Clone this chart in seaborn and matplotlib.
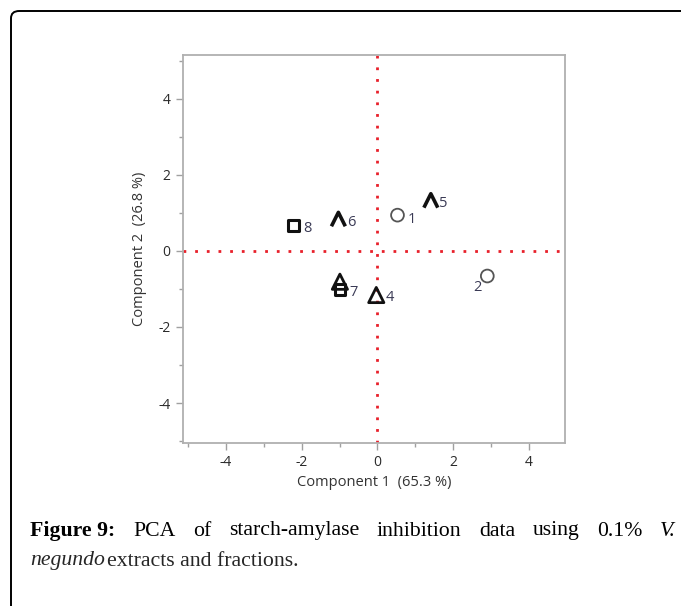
import pandas as pd
import seaborn as sns
import matplotlib.pyplot as plt
from matplotlib.patches import FancyBboxPatch
from matplotlib.ticker import MultipleLocator

# PCA scores (Component 1, Component 2)
point_ids = ['1', '2', '3', '4', '5', '6', '7', '8']
comp1 = [0.53, 2.90, -0.99, -0.03, 1.41, -1.03, -0.99, -2.22]
comp2 = [0.94, -0.66, -0.81, -1.16, 1.32, 0.83, -1.02, 0.66]
groups = ['circle', 'circle', 'triangle', 'triangle', 'caret', 'caret', 'square', 'square']
# label "3" sits under the square of point 7 in the original, so it is not drawn
point_labels = ['1', '2', '', '4', '5', '6', '7', '8']
label_offsets = [(7, -3), (-10, -8), (0, 0), (7, -2), (6, -2), (6, -2), (7, -2), (7, -2)]

x_title = 'Component 1  (65.3 %)'
y_title = 'Component 2  (26.8 %)'

df = pd.DataFrame({'id': point_ids, 'PC1': comp1, 'PC2': comp2, 'group': groups})

sns.set_theme(style='white')
plt.rcParams['font.family'] = ['Open Sans', 'DejaVu Sans']
plt.rcParams['axes.unicode_minus'] = False

fig = plt.figure(figsize=(6.81, 6.06), dpi=100)
ax = fig.add_axes([183 / 681, 1 - 443 / 606, (565 - 183) / 681, (443 - 55) / 606])

# caret marker: open lambda shape
caret = [(-1.0, -1.0), (0.0, 1.0), (1.0, -1.0)]
marker_styles = {
    'circle': dict(marker='o', s=85, edgecolor='#555555', linewidth=1.3),
    'triangle': dict(marker='^', s=120, edgecolor='#111111', linewidth=2.0),
    'caret': dict(marker=caret, s=100, edgecolor='#111111', linewidth=2.6),
    'square': dict(marker='s', s=60, edgecolor='#111111', linewidth=2.2),
}

ax.axvline(0, color='#e8202a', linestyle=(0, (1, 3.2)), linewidth=2, zorder=1)
ax.axhline(0, color='#e8202a', linestyle=(0, (1, 3.2)), linewidth=2, zorder=1)

for g, kw in marker_styles.items():
    sub = df[df['group'] == g]
    sns.scatterplot(data=sub, x='PC1', y='PC2', ax=ax, facecolor='none', zorder=3, **kw)

for xv, yv, lab, off in zip(comp1, comp2, point_labels, label_offsets):
    if lab:
        ax.annotate(lab, (xv, yv), xytext=off, textcoords='offset points',
                    ha='left', va='center', fontsize=10.5, color='#3a3a55')

ax.set_xlim(-5.13, 4.95)
ax.set_ylim(-5.05, 5.15)
ax.xaxis.set_major_locator(MultipleLocator(2))
ax.xaxis.set_minor_locator(MultipleLocator(1))
ax.yaxis.set_major_locator(MultipleLocator(2))
ax.yaxis.set_minor_locator(MultipleLocator(1))
ax.tick_params(which='major', direction='out', length=5, width=1, color='#a0a0a0',
               labelsize=10, labelcolor='#2a2a2a', bottom=True, left=True, pad=4)
ax.tick_params(which='minor', direction='out', length=3, width=1, color='#a0a0a0',
               bottom=True, left=True)
for sp in ax.spines.values():
    sp.set_color('#b0b0b0')
    sp.set_linewidth(1.3)
ax.set_xlabel(x_title, fontsize=10.5, color='#333333', labelpad=3)
ax.set_ylabel(y_title, fontsize=10.5, color='#333333', labelpad=8)

# rounded frame of the journal figure
frame = FancyBboxPatch((11 / 681, -0.2), 1.2, 1 - 11 / 606 + 0.2,
                       boxstyle='round,pad=0,rounding_size=0.012',
                       transform=fig.transFigure, fill=False, edgecolor='black',
                       linewidth=1.4, clip_on=False)
fig.patches.append(frame)

# caption, first line justified
serif = 'Liberation Serif'
cap_size = 15.7
line1 = [('Figure 9:', 'bold', 'normal'), ('PCA', 'normal', 'normal'), ('of', 'normal', 'normal'),
         ('starch-amylase', 'normal', 'normal'), ('inhibition', 'normal', 'normal'),
         ('data', 'normal', 'normal'), ('using', 'normal', 'normal'), ('0.1%', 'normal', 'normal'),
         ('V.', 'normal', 'italic')]
renderer = fig.canvas.get_renderer()
texts = []
for word, weight, style in line1:
    t = fig.text(0, 1 - 531 / 606, word, fontsize=cap_size, family=serif, fontweight=weight,
                 fontstyle=style, va='center', ha='left', color='black')
    texts.append(t)
widths = [t.get_window_extent(renderer).width for t in texts]
x0, x1 = 30, 676
gap = (x1 - x0 - sum(widths)) / (len(widths) - 1)
xpos = x0
for t, w in zip(texts, widths):
    t.set_x(xpos / 681)
    xpos += w + gap

t_it = fig.text(30 / 681, 1 - 561 / 606, 'negundo', fontsize=cap_size, family=serif,
                fontstyle='italic', va='center', ha='left')
w_it = t_it.get_window_extent(renderer).width
fig.text((30 + w_it + 2) / 681, 1 - 561 / 606, 'extracts and fractions.', fontsize=cap_size,
         family=serif, va='center', ha='left')

fig.savefig('out.png', dpi=100)
